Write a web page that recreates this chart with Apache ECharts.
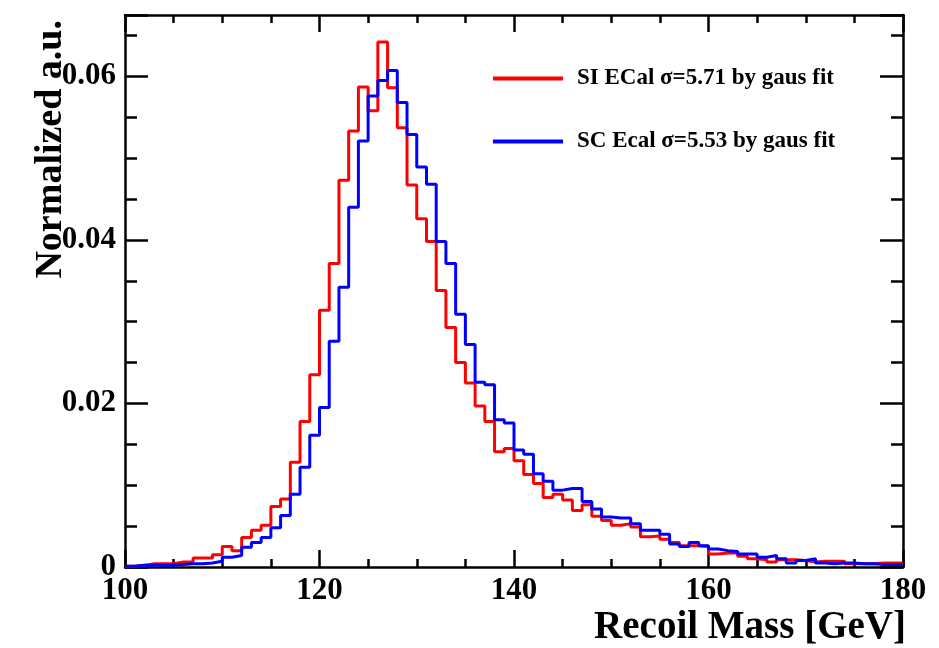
<!DOCTYPE html>
<html>
<head>
<meta charset="utf-8">
<script src="https://cdn.jsdelivr.net/npm/echarts@6/dist/echarts.min.js"></script>
<style>
  html, body { margin: 0; padding: 0; background: #fff; }
  #chartRecoil { width: 939px; height: 648px; }
</style>
</head>
<body>
<div id="chartRecoil"></div>
<script>
// recoil mass histograms, 1 GeV bins from 100 to 180
var binStart = 100;
var binWidth = 1;

var siEcal = [
  0.0001, 0.0002, 0.0004, 0.0004, 0.0004, 0.0006, 0.0006, 0.0011, 0.0011, 0.0015,
  0.0025, 0.0020, 0.0036, 0.0045, 0.0051, 0.0074, 0.0083, 0.0128, 0.0178, 0.0235,
  0.0314, 0.0371, 0.0473, 0.0533, 0.0587, 0.0558, 0.0642, 0.0586, 0.0537, 0.0467,
  0.0426, 0.0398, 0.0338, 0.0293, 0.0250, 0.0225, 0.0197, 0.0178, 0.0141, 0.0145,
  0.0130, 0.0113, 0.0102, 0.0085, 0.0089, 0.0082, 0.0069, 0.0076, 0.0062, 0.0057,
  0.0051, 0.0053, 0.0049, 0.0037, 0.0038, 0.0034, 0.0030, 0.0026, 0.0026, 0.0025,
  0.0016, 0.0017, 0.0017, 0.0013, 0.0010, 0.0009, 0.0006, 0.0009, 0.0009, 0.0008,
  0.0006, 0.0007, 0.0007, 0.0007, 0.0004, 0.0004, 0.0004, 0.0005, 0.0005, 0.0005
];

var scEcal = [
  0.0001, 0.0002, 0.0002, 0.0002, 0.0002, 0.0003, 0.0004, 0.0004, 0.0005, 0.0007,
  0.0012, 0.0014, 0.0024, 0.0030, 0.0036, 0.0048, 0.0063, 0.0089, 0.0122, 0.0161,
  0.0195, 0.0276, 0.0342, 0.0440, 0.0521, 0.0576, 0.0595, 0.0607, 0.0568, 0.0529,
  0.0489, 0.0468, 0.0398, 0.0371, 0.0309, 0.0272, 0.0226, 0.0223, 0.0180, 0.0176,
  0.0143, 0.0138, 0.0114, 0.0105, 0.0094, 0.0096, 0.0096, 0.0080, 0.0071, 0.0061,
  0.0060, 0.0060, 0.0053, 0.0045, 0.0045, 0.0040, 0.0028, 0.0025, 0.0030, 0.0026,
  0.0022, 0.0020, 0.0019, 0.0016, 0.0016, 0.0012, 0.0014, 0.0010, 0.0005, 0.0008,
  0.0010, 0.0005, 0.0004, 0.0005, 0.0005, 0.0004, 0.0004, 0.0003, 0.0003, 0.0003
];

var seriesNames = ['SI ECal \u03c3=5.71 by gaus fit', 'SC Ecal \u03c3=5.53 by gaus fit'];
var yTickLabels = ['0', '0.02', '0.04', '0.06'];

var serif = '"Liberation Serif", "Times New Roman", serif';

// turn bin contents into step points (left edge of each bin + closing point)
function toSteps(vals) {
  var pts = [];
  for (var i = 0; i < vals.length; i++) {
    pts.push([binStart + i * binWidth, vals[i]]);
  }
  pts.push([binStart + vals.length * binWidth, vals[vals.length - 1]]);
  return pts;
}

var chart = echarts.init(document.getElementById('chartRecoil'));

function xAxisCfg(pos, labels) {
  return {
    type: 'value',
    position: pos,
    min: 100, max: 180, interval: 20,
    axisLine: { show: true, onZero: false, lineStyle: { color: '#000', width: 2.5 } },
    axisTick: { show: true, inside: true, length: 17, lineStyle: { color: '#000', width: 2.5 } },
    minorTick: { show: true, splitNumber: 4, length: 8, lineStyle: { color: '#000', width: 2.5 } },
    axisLabel: {
      show: labels, margin: 8,
      fontFamily: serif, fontWeight: 'bold', fontSize: 31, color: '#000'
    },
    splitLine: { show: false }
  };
}

function yAxisCfg(pos, labels) {
  return {
    type: 'value',
    position: pos,
    min: 0, max: 0.0675, interval: 0.02,
    axisLine: { show: true, onZero: false, lineStyle: { color: '#000', width: 2.5 } },
    axisTick: { show: true, inside: true, length: 23, lineStyle: { color: '#000', width: 2.5 } },
    minorTick: { show: true, splitNumber: 4, length: 12, lineStyle: { color: '#000', width: 2.5 } },
    axisLabel: {
      show: labels, margin: 9, showMaxLabel: false,
      fontFamily: serif, fontWeight: 'bold', fontSize: 31, color: '#000',
      formatter: function (v) {
        var k = Math.round(v / 0.02);
        if (Math.abs(v - k * 0.02) > 1e-9) return '';
        return yTickLabels[k] || '';
      }
    },
    splitLine: { show: false }
  };
}

chart.setOption({
  animation: false,
  backgroundColor: '#fff',
  grid: { left: 125, top: 15, right: 36, bottom: 81 },
  xAxis: [xAxisCfg('bottom', true), xAxisCfg('top', false)],
  yAxis: [yAxisCfg('left', true), yAxisCfg('right', false)],
  legend: {
    orient: 'vertical',
    left: 493, top: 67, padding: 0,
    itemWidth: 70, itemHeight: 4, itemGap: 40,
    icon: 'rect',
    textStyle: {
      fontFamily: serif, fontWeight: 'bold', fontSize: 23, color: '#000',
      padding: [0, 0, 0, 9]
    },
    data: seriesNames
  },
  graphic: [
    {
      type: 'text', right: 33, top: 608,
      style: { text: 'Recoil Mass [GeV]', font: 'bold 39px ' + serif, fill: '#000' }
    },
    {
      type: 'text', left: 32, top: 20, rotation: Math.PI / 2,
      style: { text: 'Normalized a.u.', font: 'bold 38px ' + serif, fill: '#000',
               align: 'right', verticalAlign: 'top' }
    }
  ],
  series: [
    {
      name: seriesNames[0], type: 'line', step: 'end',
      showSymbol: false, color: '#ff0000',
      lineStyle: { width: 3 },
      data: toSteps(siEcal)
    },
    {
      name: seriesNames[1], type: 'line', step: 'end',
      showSymbol: false, color: '#0000ff',
      lineStyle: { width: 3 },
      data: toSteps(scEcal)
    }
  ]
});
</script>
</body>
</html>
